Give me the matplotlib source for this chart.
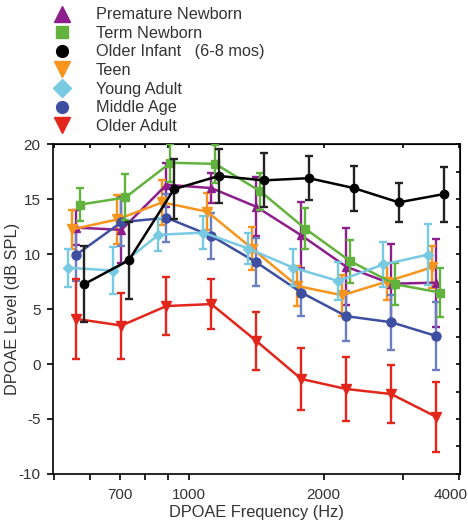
import numpy as np
import matplotlib
matplotlib.use("Agg")
import matplotlib.pyplot as plt
from matplotlib.lines import Line2D
from matplotlib.transforms import ScaledTranslation
from matplotlib.ticker import FixedLocator, NullFormatter, FixedFormatter, MultipleLocator

plt.rcParams['font.family'] = ['Liberation Sans', 'DejaVu Sans']
plt.rcParams['axes.unicode_minus'] = False

# f2 frequencies (Hz), 1/3-octave steps
freqs = np.array([561, 707, 891, 1122, 1414, 1782, 2245, 2828, 3564])

labels = ["Premature Newborn", "Term Newborn", "Older Infant   (6-8 mos)", "Teen",
          "Young Adult", "Middle Age", "Older Adult"]

premature = [12.4, 12.2, 16.3, 16.0, 14.3, 11.7, 8.85, 7.3, 7.4]
premature_err = [1.6, 3.0, 2.0, 1.35, 2.7, 3.0, 3.5, 3.6, 4.0]
term = [14.5, 15.15, 18.3, 18.2, 15.7, 12.3, 9.35, 7.25, 6.5]
term_err = [1.5, 2.1, 1.75, 1.7, 1.7, 1.85, 1.95, 1.9, 2.2]
infant = [7.25, 9.45, 15.9, 17.1, 16.7, 16.9, 16.0, 14.7, 15.45]
infant_err = [3.45, 3.5, 2.7, 2.45, 2.45, 2.0, 2.05, 1.8, 2.5]
teen = [12.25, 13.15, 14.7, 13.85, 10.5, 7.1, 6.25, 7.5, 8.8]
teen_err = [1.75, 2.2, 2.05, 1.7, 1.95, 1.85, 1.85, 1.65, 1.9]
young = [8.75, 8.5, 11.75, 11.95, 10.5, 8.75, 7.55, 9.05, 9.95]
young_err = [1.75, 2.15, 1.5, 1.5, 1.4, 1.7, 1.75, 2.05, 2.8]
middle = [9.95, 12.9, 13.3, 11.65, 9.25, 6.5, 4.35, 3.8, 2.55]
middle_err = [2.4, 2.2, 2.2, 2.1, 2.2, 2.15, 2.25, 2.5, 3.05]
older = [4.1, 3.5, 5.27, 5.45, 2.1, -1.36, -2.27, -2.73, -4.8]
older_err = [3.6, 3.0, 2.6, 2.3, 2.6, 2.8, 2.9, 2.6, 3.2]

means = [premature, term, infant, teen, young, middle, older]
errs = [premature_err, term_err, infant_err, teen_err, young_err, middle_err, older_err]

# styling
colors = ["#8c1f8c", "#62b33e", "#000000", "#f7941d", "#78c9e2", "#3e4fa1", "#e2261c"]
err_colors = ["#8c1f8c", "#62b33e", "#222222", "#f7941d", "#78c9e2", "#6a7fc2", "#e2261c"]
markers = ["^", "s", "o", "v", "D", "o", "v"]
msizes = [6, 5.5, 6, 6.5, 5, 6.5, 6.5]
leg_sizes = [11, 8, 8.5, 11, 9, 8.5, 11]
jitter = [0.0, 0.03, 0.056, -0.03, -0.059, 0.0, 0.0]  # octave offsets so bars don't overlap
zorders = [3, 4, 6, 3, 4, 3, 5]

fig = plt.figure(figsize=(4.68, 5.22), dpi=100)
ax = fig.add_axes([0.113, 0.092, 0.87, 0.632])

for m, e, c, ec, mk, ms, j, z in zip(means, errs, colors, err_colors, markers, msizes, jitter, zorders):
    x = freqs * 2 ** j
    ax.errorbar(x, m, yerr=e, color=c, ecolor=ec, marker=mk, markersize=ms,
                linewidth=1.8, elinewidth=1.7, capsize=3, capthick=1.7, zorder=z)

ax.set_xscale("log")
ax.set_xlim(497, 4030)
ax.set_ylim(-10, 20)

xt_major = [700, 1000, 2000, 4000]
xt_all = [500, 600, 700, 800, 900, 1000, 2000, 3000, 4000]
ax.xaxis.set_major_locator(FixedLocator(xt_major))
ax.xaxis.set_major_formatter(FixedFormatter([str(v) for v in xt_major]))
ax.xaxis.set_minor_locator(FixedLocator([v for v in xt_all if v not in xt_major]))
ax.xaxis.set_minor_formatter(NullFormatter())
ax.yaxis.set_major_locator(MultipleLocator(5))

ax.tick_params(axis="both", which="both", direction="out", length=4, width=1.2,
               labelsize=11, labelcolor="#333333", top=False, right=False)
ax.tick_params(axis="x", which="both", pad=6)
ax.tick_params(axis="y", pad=5)

top = ax.secondary_xaxis("top")
top.set_xticks(xt_all)
top.xaxis.set_minor_locator(FixedLocator([]))
top.tick_params(direction="in", length=3, width=1.2, labeltop=False)
right = ax.secondary_yaxis("right")
right.yaxis.set_major_locator(MultipleLocator(2.5))
right.tick_params(direction="in", length=3, width=1.2, labelright=False)

for s in ax.spines.values():
    s.set_linewidth(1.2)

ax.set_xlabel("DPOAE Frequency (Hz)", fontsize=11.8, color="#333333", labelpad=2)
ax.set_ylabel("DPOAE Level (dB SPL)", fontsize=11.8, color="#333333")
ax.yaxis.set_label_coords(-0.081, 0.5)

fig.canvas.draw()
last = ax.get_xticklabels()[-1]
last.set_transform(last.get_transform() + ScaledTranslation(-6 / 72, 0, fig.dpi_scale_trans))

handles = [Line2D([], [], linestyle="none", marker=mk, color=c, markersize=ls)
           for c, mk, ls in zip(colors, markers, leg_sizes)]
fig.legend(handles, labels, loc="upper left", bbox_to_anchor=(0.076, 1.014), frameon=False,
           fontsize=11.7, labelspacing=0.22, handletextpad=1.3, handlelength=1.5,
           labelcolor="#333333")

fig.savefig("out.png", dpi=100)
